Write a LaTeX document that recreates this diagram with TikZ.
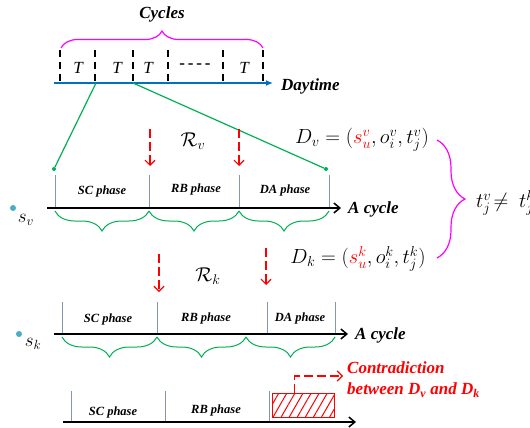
\RequirePackage{fix-cm}
\documentclass[tikz,border=0pt]{standalone}
\usepackage{amsmath,amssymb}
\usepackage{fontspec}
\setmainfont{Liberation Serif}
\usepackage{xcolor}
\usepackage{tikz}
\usetikzlibrary{arrows.meta,decorations.pathreplacing,patterns.meta,positioning}
\definecolor{brmag}{HTML}{FF00FF}
\definecolor{axblue}{HTML}{0070C0}
\definecolor{brgreen}{HTML}{00B050}
\definecolor{tickgray}{HTML}{8497B0}
\definecolor{dotteal}{HTML}{4BACC6}

\begin{document}
\begin{tikzpicture}[x=1pt,y=-1pt, every node/.style={inner sep=0pt},
  lbl/.style={font=\fontsize{17}{21}\selectfont\bfseries\itshape},
  phase/.style={font=\fontsize{12.5}{15}\selectfont\bfseries\itshape},
  tsym/.style={font=\fontsize{17}{20}\selectfont\itshape},
  eq/.style={font=\fontsize{20.5}{24}\selectfont},
  slbl/.style={font=\fontsize{19}{22}\selectfont},
  dtick/.style={line width=1.2pt,dash pattern=on 7pt off 5pt},
  ptick/.style={draw=tickgray,line width=0.8pt},
  axis/.style={line width=1.5pt,-{Straight Barb[length=6pt,width=10pt]}},
  gline/.style={draw=brgreen,line width=1.2pt},
  gbrace/.style={draw=brgreen,line width=1pt,decorate,decoration={brace,mirror,amplitude=20pt}},
  mbrace/.style={draw=brmag,line width=1.2pt,decorate,decoration={brace,amplitude=#1}},
  rarr/.style={draw=red,line width=1.2pt,dash pattern=on 9pt off 4pt,-{Straight Barb[length=5pt,width=10pt]}},
  gdot/.style={circle,fill=brgreen,minimum size=4pt},
  sdot/.style={circle,fill=dotteal,minimum size=6pt}]
  \useasboundingbox (0,0) rectangle (530,428);
  % daytime axis with cycles
  \node[lbl] (cycles) at (162,14) {Cycles};
  \draw[mbrace=17pt] (61,48) -- (263,48);
  \foreach \x in {60,95,133,168,223,263} \draw[dtick] (\x,50) -- (\x,82);
  \foreach \x/\n in {78/1,117/2,148/3,244/4} \node[tsym] (t\n) at (\x,68) {T};
  \node[tsym,font=\fontsize{17}{20}\selectfont\bfseries] (tdots) at (195,66) {-\,-\,-\,-};
  \coordinate (day0) at (54,83);
  \coordinate (day1) at (273,83);
  \draw[line width=1.5pt,axblue,-{Latex[length=7pt,width=6pt]}] (day0) -- (day1);
  \node[lbl,anchor=west] (daytime) at (281,86) {Daytime};
  \coordinate (c1) at (96,83);
  \coordinate (c2) at (133,83);
  \node[gdot] (gv1) at (54,169) {};
  \node[gdot] (gv2) at (326,169) {};
  \draw[gline] (c1) -- (gv1);
  \draw[gline] (c2) -- (gv2);
  % cycle of vehicle v
  \foreach \x in {55,149,239,329} \draw[ptick] (\x,175) -- (\x,207);
  \coordinate (v0) at (47,208);
  \coordinate (v1) at (341,208);
  \draw[axis] (v0) -- (v1);
  \node[lbl,anchor=west] (cyclev) at (348,209) {A cycle};
  \node[phase] (scv) at (102,191) {SC phase};
  \node[phase] (rbv) at (196,189) {RB phase};
  \node[phase] (dav) at (285,190) {DA phase};
  \draw[gbrace] (55,211) -- (149,211);
  \draw[gbrace] (149,211) -- (239,211);
  \draw[gbrace] (239,211) -- (329,211);
  \coordinate (rv1a) at (150,129); \coordinate (rv1b) at (150,166);
  \coordinate (rv2a) at (239,129); \coordinate (rv2b) at (239,166);
  \draw[rarr] (rv1a) -- (rv1b);
  \draw[rarr] (rv2a) -- (rv2b);
  \node[font=\fontsize{20}{24}\selectfont] (rv) at (193,141) {$\mathcal{R}_v$};
  \node[eq] (dv) at (362,140) {$D_v=(\textcolor{red}{s_u^v},o_i^v,t_j^v)$};
  \node[sdot] (sv) at (13,208) {};
  \node[slbl] (svl) at (26,220) {$s_v$};
  % comparison
  \draw[mbrace=28pt] (437,140) -- (437,258);
  \node[eq,anchor=west] (tneq) at (476,203) {$t_j^v\!\neq\ t_j^k$};
  \node[eq] (dk) at (358,259) {$D_k=(\textcolor{red}{s_u^k},o_i^k,t_j^k)$};
  % cycle of vehicle k
  \coordinate (rk1a) at (159,254); \coordinate (rk1b) at (159,292);
  \coordinate (rk2a) at (266,248); \coordinate (rk2b) at (266,285);
  \draw[rarr] (rk1a) -- (rk1b);
  \draw[rarr] (rk2a) -- (rk2b);
  \node[font=\fontsize{20}{24}\selectfont] (rk) at (208,276) {$\mathcal{R}_k$};
  \foreach \x in {62,157,267,335} \draw[ptick] (\x,302) -- (\x,333);
  \coordinate (k0) at (54,334);
  \coordinate (k1) at (348,334);
  \draw[axis] (k0) -- (k1);
  \node[lbl,anchor=west] (cyclek) at (355,335) {A cycle};
  \node[phase] (sck) at (108,319) {SC phase};
  \node[phase] (rbk) at (206,318) {RB phase};
  \node[phase] (dak) at (300,318) {DA phase};
  \draw[gbrace] (62,337) -- (157,337);
  \draw[gbrace] (157,337) -- (246,337);
  \draw[gbrace] (246,337) -- (335,337);
  \node[sdot] (sk) at (19,334) {};
  \node[slbl] (skl) at (33,344) {$s_k$};
  % conflicting cycle
  \foreach \x in {71,165,269} \draw[ptick] (\x,391) -- (\x,422);
  \coordinate (b0) at (63,422);
  \coordinate (b1) at (356,422);
  \draw[axis] (b0) -- (b1);
  \node[phase] (scb) at (113,412) {SC phase};
  \node[phase] (rbb) at (216,410) {RB phase};
  \node[draw=red,line width=1.6pt,minimum width=62pt,minimum height=24pt,
    pattern={Lines[angle=60,distance=7pt,line width=1pt]},pattern color=red] (conflict) at (303.5,405.5) {};
  \coordinate (contip) at (343,376);
  \draw[rarr] ([xshift=-9pt]conflict.north) |- (contip);
  \node[lbl,red,anchor=north west,align=left] (contra) at (347,362)
    {Contradiction\\between D\textsubscript{v} and D\textsubscript{k}};
\end{tikzpicture}
\end{document}
